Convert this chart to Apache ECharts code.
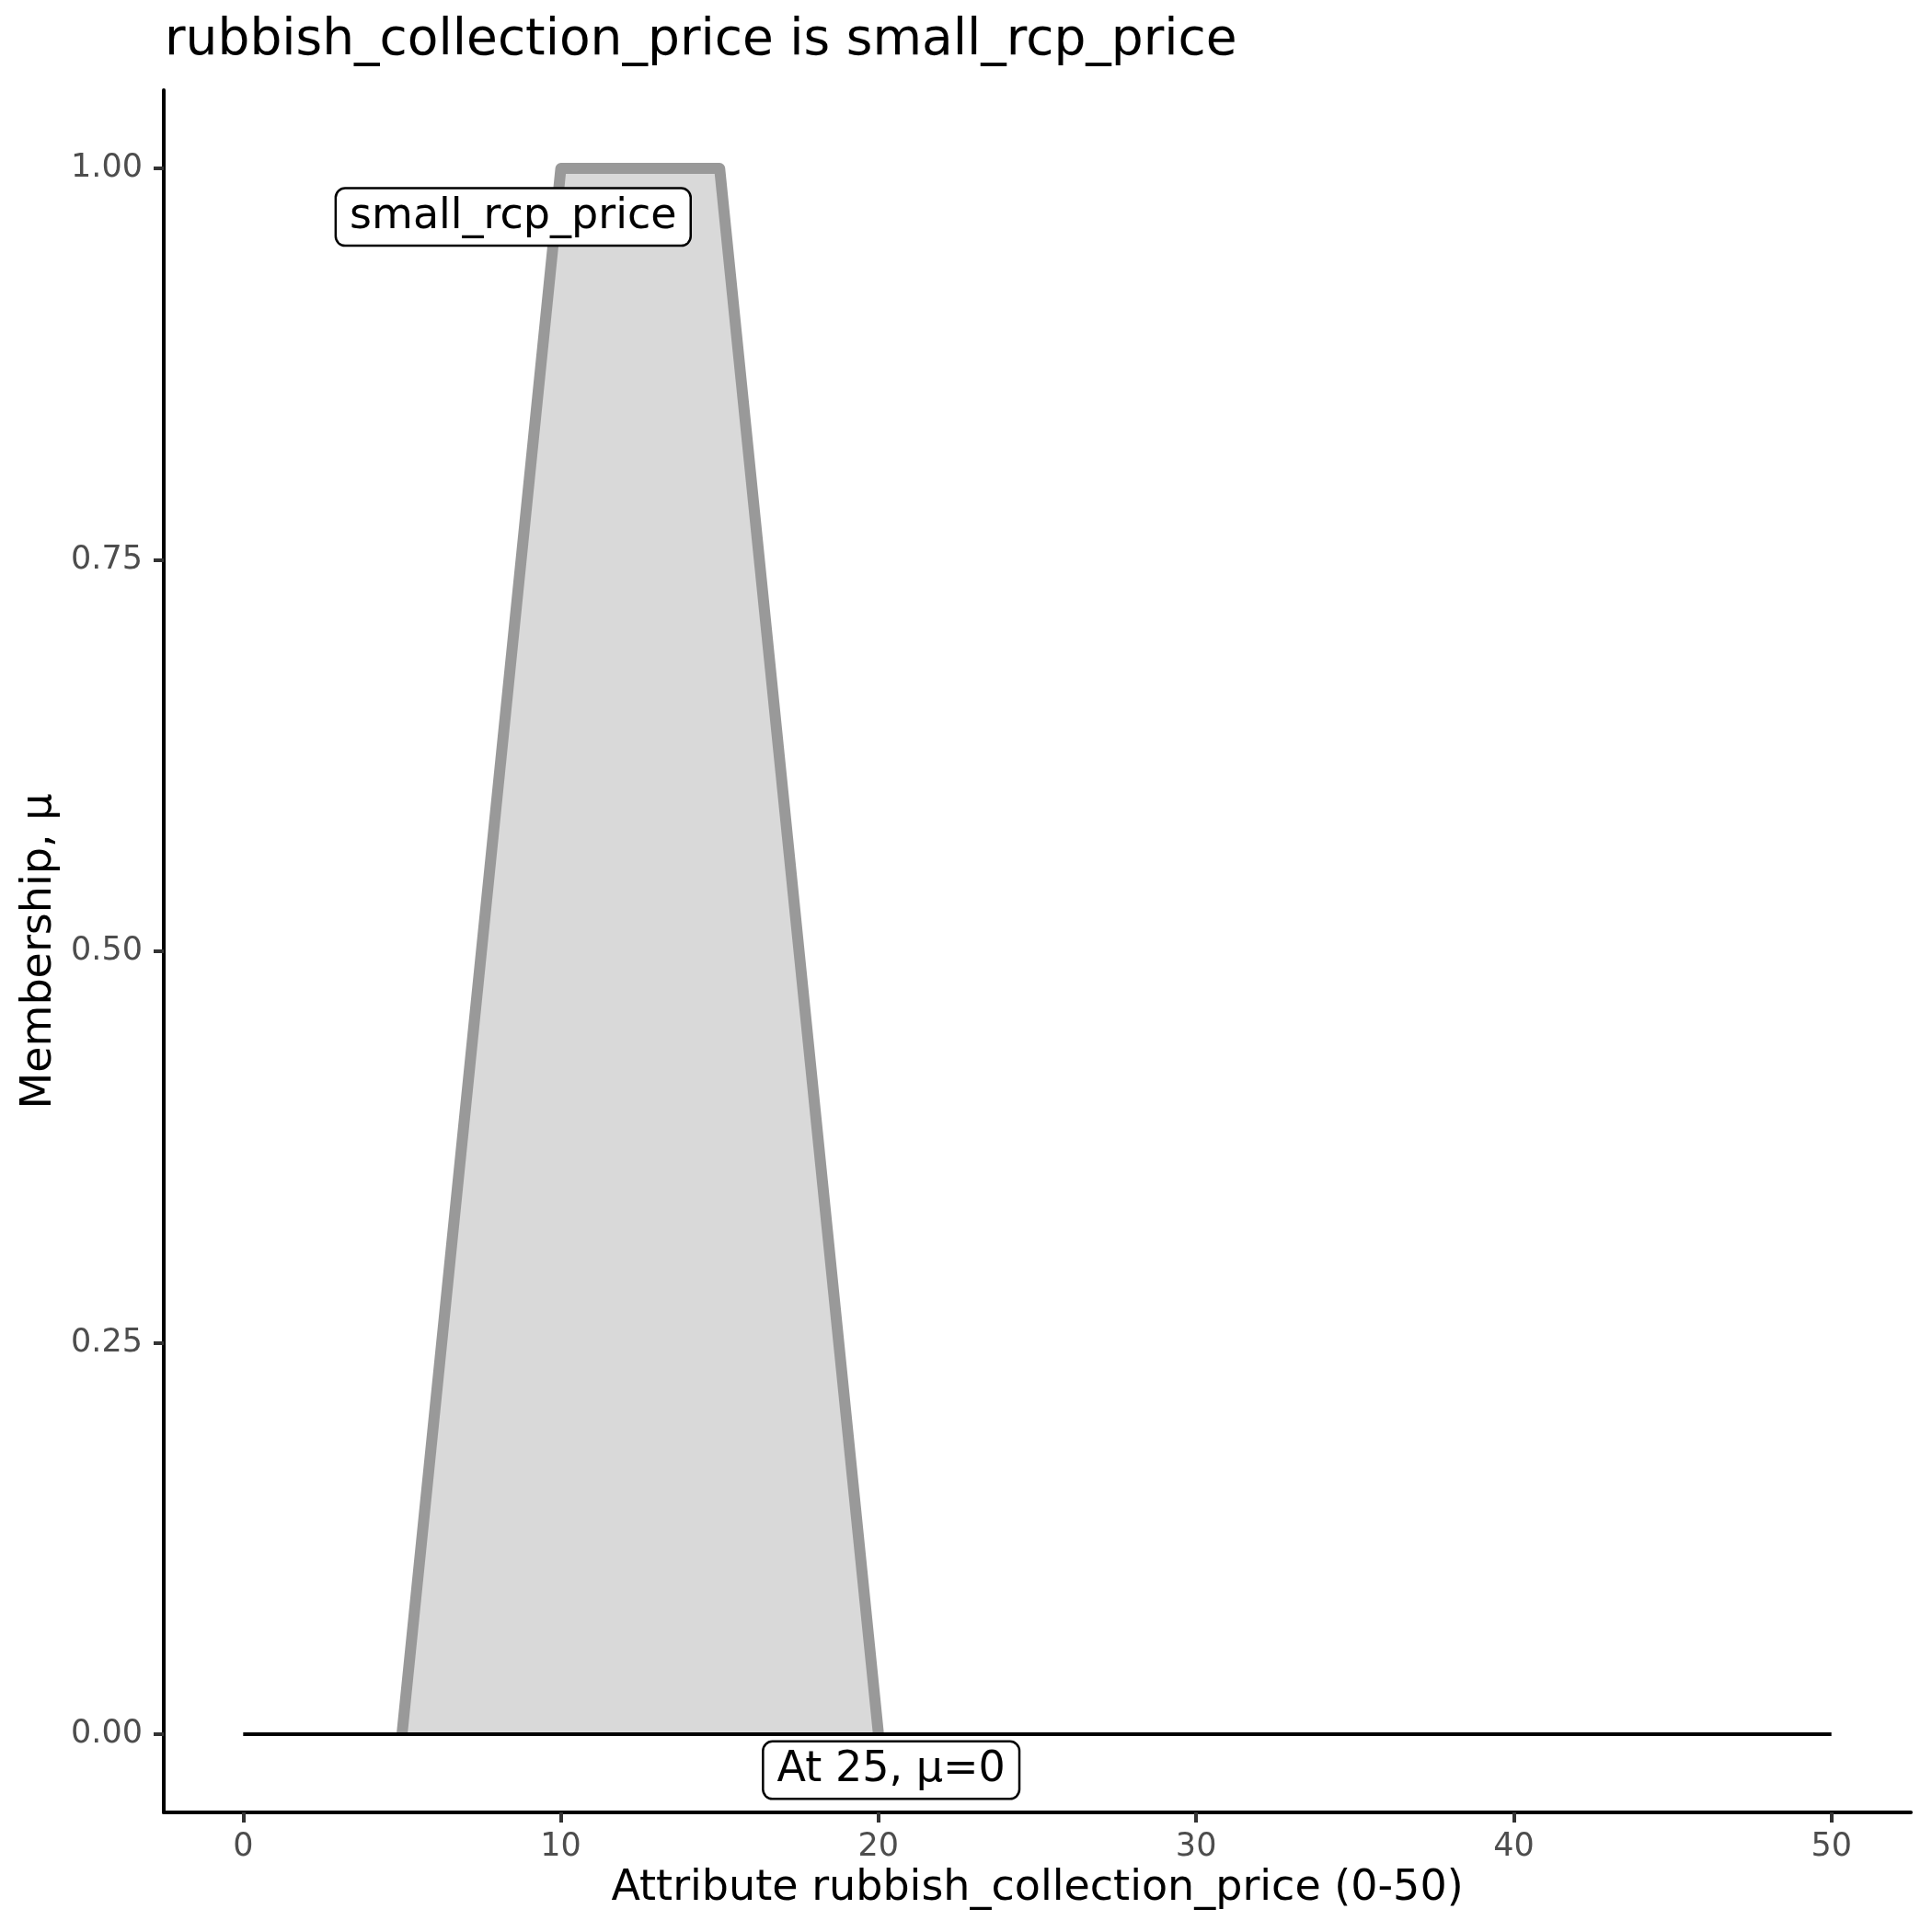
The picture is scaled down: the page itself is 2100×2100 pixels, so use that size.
<!DOCTYPE html>
<html>
<head>
<meta charset="utf-8">
<script src="https://cdn.jsdelivr.net/npm/echarts@6/dist/echarts.min.js"></script>
<style>html,body{margin:0;padding:0;background:#fff;}#c{width:2100px;height:2100px;}</style>
</head>
<body>
<div id="c"></div>
<script>
// Membership function (trapezoid) points
const mfX = [5, 10, 15, 20];
const mfY = [0, 1, 1, 0];
// Baseline (mu = 0) across universe
const baseX = [0, 50];
const baseY = [0, 0];
// Labels
const labelText = ['small_rcp_price', 'At 25, μ=0'];
const labelX = [8.5, 20.4];
const labelY = [0.969, -0.023];
// Axis ticks
const xTicks = [0, 10, 20, 30, 40, 50];
const yTicks = [0, 0.25, 0.5, 0.75, 1];
const titleText = 'rubbish_collection_price is small_rcp_price';
const xName = 'Attribute rubbish_collection_price (0-50)';
const yName = 'Membership, μ';

const FONT = 'DejaVu Sans';
const chart = echarts.init(document.getElementById('c'), null, {renderer: 'canvas'});
chart.setOption({
  backgroundColor: '#ffffff',
  animation: false,
  title: {
    text: titleText,
    left: 174,
    top: 12,
    textStyle: {fontFamily: FONT, fontSize: 55, fontWeight: 'normal', color: '#000000'}
  },
  grid: {left: 178, right: 23, top: 98, bottom: 130, containLabel: false},
  xAxis: {
    type: 'value',
    min: -2.5,
    max: 52.5,
    name: xName,
    nameLocation: 'middle',
    nameGap: 58,
    nameTextStyle: {fontFamily: FONT, fontSize: 46, color: '#000000'},
    axisLine: {onZero: false, lineStyle: {color: '#000000', width: 4}},
    axisTick: {show: true, length: 11, customValues: xTicks, lineStyle: {color: '#333333', width: 4}},
    axisLabel: {
      customValues: xTicks,
      margin: 20,
      fontFamily: FONT, fontSize: 35, color: '#4D4D4D',
      formatter: v => String(v)
    },
    splitLine: {show: false}
  },
  yAxis: {
    type: 'value',
    min: -0.05,
    max: 1.05,
    name: yName,
    nameLocation: 'middle',
    nameGap: 112,
    nameTextStyle: {fontFamily: FONT, fontSize: 46, color: '#000000'},
    axisLine: {onZero: false, lineStyle: {color: '#000000', width: 4}},
    axisTick: {show: true, length: 11, customValues: yTicks, lineStyle: {color: '#333333', width: 4}},
    axisLabel: {
      customValues: yTicks,
      margin: 23,
      fontFamily: FONT, fontSize: 35, color: '#4D4D4D',
      formatter: v => Number(v).toFixed(2)
    },
    splitLine: {show: false}
  },
  series: [
    {
      type: 'line',
      data: mfX.map((x, i) => [x, mfY[i]]),
      symbol: 'none',
      lineStyle: {color: '#999999', width: 12, join: 'round', cap: 'butt'},
      areaStyle: {color: '#D9D9D9', opacity: 1, origin: 0},
      z: 2
    },
    {
      type: 'line',
      data: baseX.map((x, i) => [x, baseY[i]]),
      symbol: 'none',
      lineStyle: {color: '#000000', width: 4},
      z: 3
    },
    {
      type: 'scatter',
      data: labelX.map((x, i) => ({value: [x, labelY[i]], name: labelText[i]})),
      symbolSize: 1,
      itemStyle: {color: 'rgba(0,0,0,0)', opacity: 1},
      label: {
        show: true,
        position: 'inside',
        formatter: p => p.name,
        fontFamily: FONT,
        fontSize: 46,
        lineHeight: 46,
        color: '#000000',
        opacity: 1,
        backgroundColor: '#ffffff',
        borderColor: '#000000',
        borderWidth: 2.5,
        borderRadius: 9,
        padding: [8, 14, 6, 14]
      },
      z: 5
    }
  ]
});
</script>
</body>
</html>
